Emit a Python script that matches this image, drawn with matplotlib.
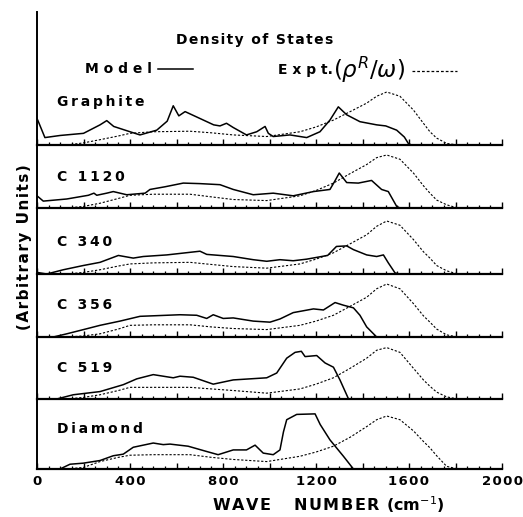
import numpy as np
import matplotlib.pyplot as plt
from matplotlib.ticker import MultipleLocator, FuncFormatter

# Panel names (top to bottom)
panel_names = ["Graphite", "C 1120", "C 340", "C 356", "C 519", "Diamond"]

# Model density of states (solid), wave number in cm-1
graphite_model_x = [0, 5, 34, 100, 200, 271, 300, 330, 400, 443, 515, 560, 586, 610, 637, 701, 760,
                    787, 815, 844, 901, 945, 981, 995, 1016, 1088, 1160, 1217, 1260, 1296, 1332,
                    1389, 1461, 1500, 1547, 1580, 1597, 1610]
graphite_model_y = [0.5, 0.45, 0.14, 0.18, 0.22, 0.38, 0.46, 0.35, 0.25, 0.19, 0.28, 0.45, 0.74,
                    0.55, 0.63, 0.50, 0.38, 0.36, 0.41, 0.33, 0.19, 0.25, 0.35, 0.22, 0.16, 0.19,
                    0.14, 0.25, 0.47, 0.72, 0.57, 0.44, 0.38, 0.36, 0.28, 0.15, 0.03, 0]

c1120_model_x = [0, 27, 128, 221, 245, 257, 300, 328, 386, 465, 486, 550, 629, 701, 787, 844, 930,
                 1016, 1102, 1189, 1260, 1280, 1300, 1332, 1382, 1439, 1482, 1511, 1547, 1561]
c1120_model_y = [0.23, 0.13, 0.17, 0.24, 0.28, 0.24, 0.28, 0.31, 0.25, 0.28, 0.35, 0.40, 0.47, 0.46,
                 0.44, 0.35, 0.25, 0.28, 0.23, 0.31, 0.35, 0.50, 0.66, 0.48, 0.47, 0.52, 0.35,
                 0.31, 0.03, 0]

c340_model_x = [0, 42, 113, 199, 271, 350, 414, 457, 558, 701, 730, 844, 930, 988, 1045, 1102,
                1160, 1250, 1288, 1332, 1361, 1418, 1461, 1490, 1511, 1540, 1561]
c340_model_y = [0.03, 0, 0.08, 0.16, 0.22, 0.35, 0.30, 0.33, 0.36, 0.43, 0.37, 0.33, 0.27, 0.24,
                0.27, 0.25, 0.28, 0.35, 0.52, 0.53, 0.46, 0.36, 0.33, 0.36, 0.21, 0.02, 0]

c356_model_x = [0, 70, 128, 200, 271, 357, 443, 615, 687, 730, 758, 801, 844, 930, 1002, 1045,
                1102, 1189, 1232, 1282, 1318, 1361, 1389, 1418, 1461]
c356_model_y = [0, 0, 0.06, 0.14, 0.22, 0.30, 0.39, 0.42, 0.41, 0.35, 0.42, 0.35, 0.36, 0.30,
                0.28, 0.34, 0.46, 0.53, 0.51, 0.65, 0.60, 0.55, 0.41, 0.19, 0]

c519_model_x = [0, 85, 156, 271, 371, 429, 500, 586, 615, 672, 758, 844, 988, 1031, 1074, 1110,
                1137, 1153, 1203, 1239, 1275, 1303, 1340]
c519_model_y = [0, 0, 0.08, 0.14, 0.27, 0.38, 0.46, 0.40, 0.43, 0.41, 0.28, 0.36, 0.40, 0.49,
                0.77, 0.88, 0.90, 0.80, 0.82, 0.68, 0.60, 0.36, 0]

diamond_model_x = [0, 99, 142, 199, 271, 328, 371, 414, 500, 543, 572, 650, 730, 779, 844, 901,
                   938, 973, 1016, 1045, 1060, 1074, 1117, 1196, 1218, 1260, 1318, 1361]
diamond_model_y = [0, 0, 0.09, 0.11, 0.16, 0.25, 0.28, 0.41, 0.49, 0.46, 0.47, 0.43, 0.33, 0.27,
                   0.36, 0.36, 0.45, 0.30, 0.27, 0.36, 0.70, 0.93, 1.03, 1.04, 0.84, 0.55, 0.24, 0]

# Experimental rho^R/omega (dashed)
expt_x = [130, 200, 271, 350, 400, 500, 658, 750, 844, 988, 1131, 1200, 1275, 1347, 1418, 1461,
          1504, 1561, 1619, 1662, 1690, 1719, 1762, 1810]
graphite_expt_y = [0, 0.04, 0.10, 0.17, 0.22, 0.25, 0.26, 0.23, 0.19, 0.16, 0.25, 0.34, 0.47,
                   0.63, 0.79, 0.92, 1.0, 0.92, 0.66, 0.41, 0.25, 0.13, 0.03, 0]
c1120_expt_y = [0, 0.03, 0.09, 0.18, 0.24, 0.26, 0.26, 0.21, 0.16, 0.14, 0.23, 0.33, 0.47, 0.65,
                0.82, 0.95, 1.0, 0.92, 0.66, 0.42, 0.28, 0.15, 0.06, 0]
c340_expt_y = [0, 0.03, 0.08, 0.15, 0.19, 0.21, 0.22, 0.18, 0.14, 0.11, 0.19, 0.28, 0.40, 0.57,
               0.74, 0.90, 1.0, 0.92, 0.65, 0.42, 0.30, 0.16, 0.06, 0]
c356_expt_y = [0, 0.02, 0.06, 0.15, 0.22, 0.23, 0.23, 0.19, 0.16, 0.14, 0.22, 0.30, 0.41, 0.58,
               0.75, 0.91, 1.0, 0.91, 0.63, 0.40, 0.28, 0.15, 0.04, 0]
c519_expt_y = [0, 0.03, 0.08, 0.16, 0.22, 0.22, 0.22, 0.19, 0.16, 0.11, 0.19, 0.28, 0.40, 0.58,
               0.77, 0.92, 0.97, 0.88, 0.58, 0.36, 0.24, 0.13, 0.04, 0]
diamond_expt_y = [0, 0.03, 0.14, 0.22, 0.26, 0.27, 0.27, 0.22, 0.18, 0.14, 0.24, 0.32, 0.43,
                  0.60, 0.80, 0.93, 1.0, 0.93, 0.72, 0.52, 0.40, 0.25, 0.05, 0]

model_x = [graphite_model_x, c1120_model_x, c340_model_x, c356_model_x, c519_model_x, diamond_model_x]
model_y = [graphite_model_y, c1120_model_y, c340_model_y, c356_model_y, c519_model_y, diamond_model_y]
expt_y = [graphite_expt_y, c1120_expt_y, c340_expt_y, c356_expt_y, c519_expt_y, diamond_expt_y]

HAIR = "\u200a"


def spaced(s, sep=HAIR):
    # letter-spaced text, like the old typeset figure
    return sep.join(s)


W, H = 523, 517
fig = plt.figure(figsize=(W / 100, H / 100), dpi=100)

# panel geometry in pixels
left, right = 37, 502
tops = [12, 145, 208, 274, 337, 399]
bottoms = [145, 208, 274, 337, 399, 469]
label_ys = [102, 177, 242, 305, 368, 429]
unit_px = 53.0

for i in range(6):
    ax = fig.add_axes([left / W, 1 - bottoms[i] / H, (right - left) / W, (bottoms[i] - tops[i]) / H])
    ax.plot(model_x[i], model_y[i], color="black", lw=1.1, solid_joinstyle="round")
    ax.plot(expt_x, expt_y[i], color="black", lw=0.8, dashes=(2.0, 1.6))
    ax.set_xlim(0, 2000)
    ax.set_ylim(0, (bottoms[i] - tops[i]) / unit_px)
    ax.patch.set_alpha(0)
    for s in ["top", "right"]:
        ax.spines[s].set_visible(False)
    ax.spines["left"].set_linewidth(1.4)
    ax.spines["bottom"].set_linewidth(1.6)
    ax.set_yticks([])
    ax.xaxis.set_major_locator(MultipleLocator(200))
    ax.xaxis.set_minor_locator(MultipleLocator(50))
    ax.tick_params(axis="x", which="major", direction="in", length=4.5, width=1.0)
    ax.tick_params(axis="x", which="minor", direction="in", length=2.5, width=0.9)
    if i == 5:
        ax.xaxis.set_major_formatter(
            FuncFormatter(lambda v, p: spaced("%d" % v) if v % 400 == 0 else ""))
        ax.tick_params(axis="x", which="major", labelsize=9.5, pad=4)
        for lab in ax.get_xticklabels():
            lab.set_fontweight("bold")
    else:
        ax.set_xticklabels([])
    fig.text(57 / W, 1 - label_ys[i] / H, spaced(panel_names[i], HAIR * 2), fontsize=10,
             fontweight="bold", va="center", ha="left")

fig.text(255 / W, 1 - 40 / H, spaced("Density of States"), fontsize=10,
         fontweight="bold", ha="center", va="center")
fig.text(85 / W, 1 - 69 / H, "M o d e l", fontsize=10, fontweight="bold", ha="left", va="center")
fig.lines.append(plt.Line2D([158 / W, 193 / W], [1 - 69 / H, 1 - 69 / H], transform=fig.transFigure,
                            color="black", lw=1.1))
fig.text(278 / W, 1 - 70 / H, "E x p t.", fontsize=10, fontweight="bold", ha="left", va="center")
fig.text(333 / W, 1 - 70 / H, r"$(\rho^{R}/\omega)$", fontsize=16.5, ha="left", va="center")
fig.lines.append(plt.Line2D([412 / W, 457 / W], [1 - 71 / H, 1 - 71 / H], transform=fig.transFigure,
                            color="black", lw=0.9, dashes=(2.2, 1.6)))

fig.text(25 / W, 1 - 247 / H, spaced("(Arbitrary Units)"), rotation=90, fontsize=11,
         fontweight="bold", ha="center", va="center")
fig.text(328 / W, 1 - 505 / H, spaced("WAVE   NUMBER ") + "(cm$^{-1}$)", fontsize=11.5,
         fontweight="bold", ha="center", va="center")

fig.savefig("out.png", dpi=100)
